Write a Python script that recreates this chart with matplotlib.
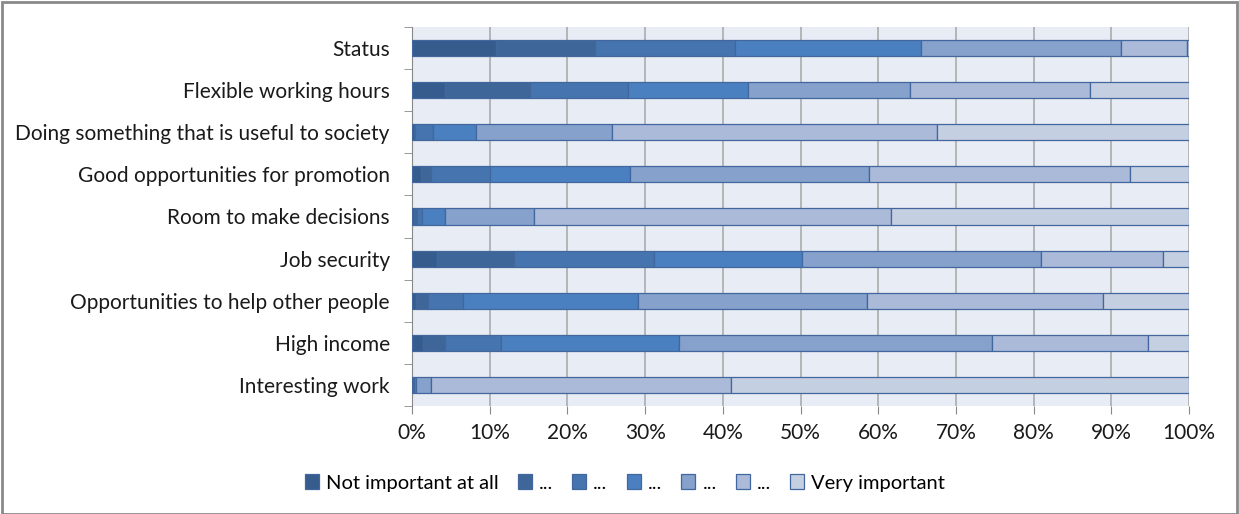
import matplotlib.pyplot as plt
from matplotlib.patches import Rectangle
import numpy as np

plt.rcParams["font.family"] = ["Lato", "DejaVu Sans"]

categories = [
  "Status",
  "Flexible working hours",
  "Doing something that is useful to society",
  "Good opportunities for promotion",
  "Room to make decisions",
  "Job security",
  "Opportunities to help other people",
  "High income",
  "Interesting work",
]

levels = ["Not important at all", "...", "...", "...", "...", "...", "Very important"]

# share of answers (%) per importance level, one value per category (top to bottom)
lvl1 = [10.8, 4.2, 0.2, 1.2, 0.3, 3.2, 0.5, 1.4, 0.1]
lvl2 = [12.8, 11.0, 0.2, 1.3, 0.4, 9.9, 1.5, 2.9, 0.1]
lvl3 = [18.0, 12.6, 2.3, 7.5, 0.6, 18.1, 4.6, 7.2, 0.1]
lvl4 = [23.9, 15.4, 5.5, 18.1, 2.9, 19.0, 22.5, 22.8, 0.2]
lvl5 = [25.8, 20.9, 17.5, 30.7, 11.5, 30.8, 29.4, 40.3, 1.9]
lvl6 = [8.4, 23.2, 41.9, 33.6, 46.0, 15.7, 30.4, 20.1, 38.6]
lvl7 = [0.3, 12.7, 32.4, 7.6, 38.3, 3.3, 11.1, 5.3, 59.0]

colors = ["#355C8C", "#3E6699", "#4574AE", "#4A80BF", "#85A1CC", "#ABBAD8", "#C5CFE2"]

fig = plt.figure(figsize=(12.39, 5.14), dpi=100)
ax = fig.add_axes([412 / 1239, 1 - 406 / 514, 777 / 1239, 379 / 514])
ax.set_facecolor("#E8ECF4")

y = np.arange(len(categories))
left = np.zeros(len(categories))
for vals, col, lab in zip([lvl1, lvl2, lvl3, lvl4, lvl5, lvl6, lvl7], colors, levels):
  ax.barh(y, vals, left=left, height=0.38, color=col, edgecolor="#41679E",
          linewidth=0.9, label=lab, zorder=3)
  left += np.array(vals)

ax.set_xlim(0, 100)
ax.set_ylim(len(categories) - 0.5, -0.5)
ax.set_xticks(np.arange(0, 101, 10))
ax.set_xticklabels([f"{v}%" for v in range(0, 101, 10)], fontsize=15, color="#1a1a1a")
ax.set_yticks(y)
ax.set_yticklabels(categories, fontsize=15, color="#1a1a1a")
ax.set_yticks(np.arange(-0.5, len(categories), 1), minor=True)
ax.tick_params(axis="y", which="major", length=0, pad=16)
ax.tick_params(axis="y", which="minor", length=6, color="#888")
ax.tick_params(axis="x", length=6, color="#888", pad=6)
ax.grid(axis="x", color="#A6A6A6", linewidth=1.1, zorder=0)

for s in ["top", "right", "bottom"]:
  ax.spines[s].set_visible(False)
ax.spines["left"].set_color("#888")

ax.legend(loc="center", bbox_to_anchor=(625 / 1239, 1 - 483 / 514),
          bbox_transform=fig.transFigure, ncol=7, frameon=False, fontsize=14.5,
          handlelength=0.7, handleheight=0.7, handletextpad=0.35, columnspacing=0.95)

fig.patches.append(Rectangle((0.002, 0.0), 0.996, 0.996, transform=fig.transFigure,
                             fill=False, edgecolor="#8A8A8A", linewidth=2))

fig.savefig("out.png", dpi=100, facecolor="white")
